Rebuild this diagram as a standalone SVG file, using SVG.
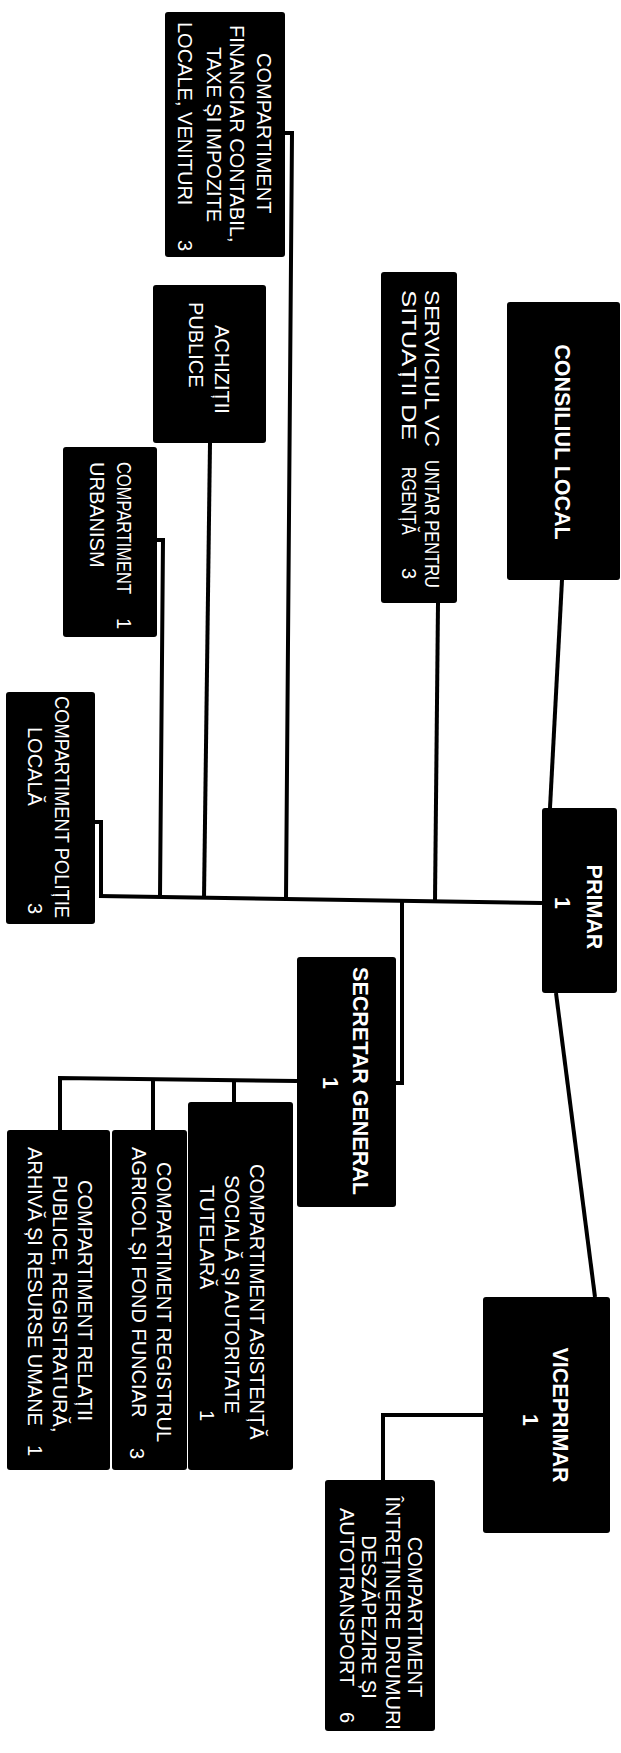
<svg xmlns="http://www.w3.org/2000/svg" width="621" height="1753" viewBox="0 0 621 1753">
<style>
.box{fill:#000}
.t{font-family:"Liberation Sans",Arial,sans-serif;font-size:20px;fill:#fff}
.b{font-weight:bold;font-size:21.5px}
.c{stroke:#000;stroke-width:4;fill:none;stroke-linejoin:miter}
</style>
<rect width="621" height="1753" fill="#fff"/>
<g id="connectors">
<path class="c" d="M285,133 H292 L286,899"/>
<path class="c" d="M210,443 L204,898"/>
<path class="c" d="M157,540 H163 L160,897"/>
<path class="c" d="M438,603 L435,901"/>
<path class="c" d="M95,822 H101 V896"/>
<path class="c" d="M99,896 L542,903"/>
<path class="c" d="M402,901 V1083 H396"/>
<path class="c" d="M297,1081 L60,1078 V1130"/>
<path class="c" d="M153,1079 V1130"/>
<path class="c" d="M234,1080 V1102"/>
<path class="c" d="M562,580 L550,808"/>
<path class="c" d="M556,993 L595,1297"/>
<path class="c" d="M483,1415 H383 V1480"/>
</g>
<g id="financiar" transform="translate(285,12) rotate(90)">
<rect class="box" x="0" y="0" width="245" height="120" rx="3"/>
<text class="t" x="41" y="28">COMPARTIMENT</text>
<text class="t" x="13" y="55">FINANCIAR CONTABIL,</text>
<text class="t" x="35" y="78">TAXE ȘI IMPOZITE</text>
<text class="t" x="10" y="107">LOCALE, VENITURI</text>
<text class="t" x="228" y="107">3</text>
</g>
<g id="achizitii" transform="translate(266,285) rotate(90)">
<rect class="box" x="0" y="0" width="158" height="113" rx="3"/>
<text class="t" x="40" y="51">ACHIZIȚII</text>
<text class="t" x="17" y="77">PUBLICE</text>
</g>
<g id="urbanism" transform="translate(157,447) rotate(90)">
<rect class="box" x="0" y="0" width="190" height="94" rx="3"/>
<text class="t" x="15" y="40" textLength="132" lengthAdjust="spacingAndGlyphs">COMPARTIMENT</text>
<text class="t" x="171" y="40">1</text>
<text class="t" x="15" y="67">URBANISM</text>
</g>
<g id="serviciul" transform="translate(457,272) rotate(90)">
<rect class="box" x="0" y="0" width="331" height="76" rx="3"/>
<text class="t" x="18" y="32" textLength="157" lengthAdjust="spacingAndGlyphs">SERVICIUL VC</text>
<text class="t" x="188" y="32" textLength="128" lengthAdjust="spacingAndGlyphs">UNTAR PENTRU</text>
<text class="t" x="18" y="55" textLength="150" lengthAdjust="spacingAndGlyphs">SITUAȚII DE</text>
<text class="t" x="195" y="55" textLength="68" lengthAdjust="spacingAndGlyphs">RGENȚĂ</text>
<text class="t" x="296" y="55">3</text>
</g>
<g id="consiliul" transform="translate(620,302) rotate(90)">
<rect class="box" x="0" y="0" width="278" height="113" rx="3"/>
<text class="t b" x="140" y="65" text-anchor="middle">CONSILIUL LOCAL</text>
</g>
<g id="primar" transform="translate(617,808) rotate(90)">
<rect class="box" x="0" y="0" width="185" height="75" rx="3"/>
<text class="t b" x="99" y="30" text-anchor="middle">PRIMAR</text>
<text class="t b" x="95" y="62" text-anchor="middle">1</text>
</g>
<g id="politie" transform="translate(95,692) rotate(90)">
<rect class="box" x="0" y="0" width="232" height="89" rx="3"/>
<text class="t" x="4" y="40" textLength="222" lengthAdjust="spacingAndGlyphs">COMPARTIMENT POLIȚIE</text>
<text class="t" x="35" y="67">LOCALĂ</text>
<text class="t" x="211" y="67">3</text>
</g>
<g id="secretar" transform="translate(396,957) rotate(90)">
<rect class="box" x="0" y="0" width="250" height="99" rx="3"/>
<text class="t b" x="124" y="43" text-anchor="middle">SECRETAR GENERAL</text>
<text class="t b" x="126" y="73" text-anchor="middle">1</text>
</g>
<g id="asistenta" transform="translate(293,1102) rotate(90)">
<rect class="box" x="0" y="0" width="368" height="105" rx="3"/>
<text class="t" x="62" y="43">COMPARTIMENT ASISTENȚĂ</text>
<text class="t" x="73" y="68">SOCIALĂ ȘI AUTORITATE</text>
<text class="t" x="83" y="93">TUTELARĂ</text>
<text class="t" x="308" y="93">1</text>
</g>
<g id="registru" transform="translate(187,1130) rotate(90)">
<rect class="box" x="0" y="0" width="340" height="75" rx="3"/>
<text class="t" x="32" y="30">COMPARTIMENT REGISTRUL</text>
<text class="t" x="17" y="55">AGRICOL ȘI FOND FUNCIAR</text>
<text class="t" x="318" y="57">3</text>
</g>
<g id="relatii" transform="translate(110,1130) rotate(90)">
<rect class="box" x="0" y="0" width="340" height="103" rx="3"/>
<text class="t" x="50" y="32">COMPARTIMENT RELAȚII</text>
<text class="t" x="45" y="57">PUBLICE, REGISTRATURĂ,</text>
<text class="t" x="17" y="82">ARHIVĂ ȘI RESURSE UMANE</text>
<text class="t" x="315" y="82">1</text>
</g>
<g id="viceprimar" transform="translate(610,1297) rotate(90)">
<rect class="box" x="0" y="0" width="236" height="127" rx="3"/>
<text class="t b" x="118" y="57" text-anchor="middle">VICEPRIMAR</text>
<text class="t b" x="123" y="87" text-anchor="middle">1</text>
</g>
<g id="intretinere" transform="translate(435,1480) rotate(90)">
<rect class="box" x="0" y="0" width="251" height="110" rx="3"/>
<text class="t" x="137" y="27" text-anchor="middle">COMPARTIMENT</text>
<text class="t" x="136" y="49" text-anchor="middle">ÎNTREȚINERE DRUMURI,</text>
<text class="t" x="137" y="73" text-anchor="middle">DESZĂPEZIRE ȘI</text>
<text class="t" x="28" y="95">AUTOTRANSPORT</text>
<text class="t" x="232" y="95">6</text>
</g>
</svg>
